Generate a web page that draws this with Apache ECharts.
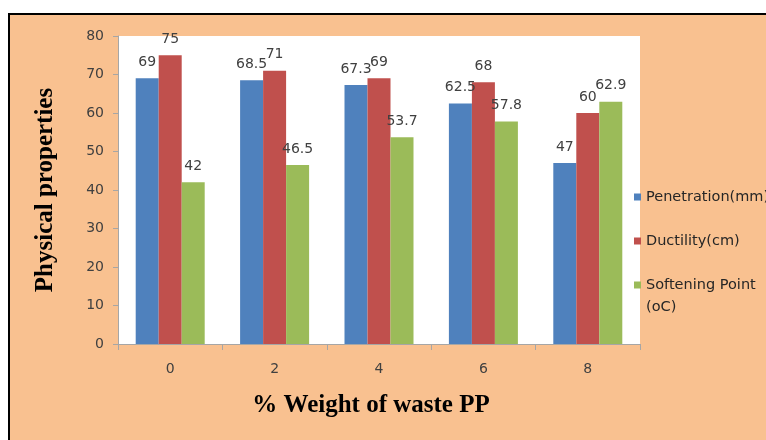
<!DOCTYPE html>
<html>
<head>
<meta charset="utf-8">
<script src="https://cdn.jsdelivr.net/npm/echarts@6/dist/echarts.min.js"></script>
<style>
  html, body { margin: 0; padding: 0; background: #ffffff; }
  #chart { width: 766px; height: 440px; }
</style>
</head>
<body>
<div id="chart"></div>
<script>
// % weight of waste PP added to the binder
var categories = ['0', '2', '4', '6', '8'];
// Measured physical properties for each blend
var penetration = [69, 68.5, 67.3, 62.5, 47];
var ductility = [75, 71, 69, 68, 60];
var softeningPoint = [42, 46.5, 53.7, 57.8, 62.9];
var yTicks = { min: 0, max: 80, interval: 10 };

var seriesNames = ['Penetration(mm)', 'Ductility(cm)', 'Softening Point (oC)'];

var labelFont = 'DejaVu Sans';
var labelColor = '#404040';

function barSeries(name, data, color) {
  return {
    name: name,
    type: 'bar',
    data: data,
    barWidth: 23,
    barGap: '0%',
    itemStyle: { color: color },
    label: {
      show: true,
      position: 'top',
      distance: 9,
      fontFamily: labelFont,
      fontSize: 14,
      color: labelColor
    }
  };
}

// One legend block per entry so the wrapped entry keeps its marker on the first line
function legendBlock(name, top, text) {
  return {
    orient: 'vertical',
    left: 634,
    top: top,
    padding: 0,
    itemWidth: 7,
    itemHeight: 7,
    icon: 'rect',
    textStyle: { fontFamily: labelFont, fontSize: 14.5, color: '#262626', lineHeight: 22 },
    formatter: function () { return text; },
    data: [name]
  };
}

var chart = echarts.init(document.getElementById('chart'), null, { renderer: 'canvas' });
chart.setOption({
  backgroundColor: '#ffffff',
  animation: false,
  graphic: [{
    type: 'rect',
    z: -10,
    shape: { x: 9, y: 14, width: 800, height: 480 },
    style: { fill: '#F9C190', stroke: '#000000', lineWidth: 2 }
  }],
  grid: {
    left: 118, top: 36, width: 522, height: 308,
    show: true, backgroundColor: '#ffffff', borderWidth: 0
  },
  legend: [
    legendBlock(seriesNames[0], 186, 'Penetration(mm)'),
    legendBlock(seriesNames[1], 230, 'Ductility(cm)'),
    legendBlock(seriesNames[2], 252, '\nSoftening Point\n(oC)')
  ],
  xAxis: {
    type: 'category',
    data: categories,
    name: '% Weight of waste PP',
    nameLocation: 'middle',
    nameGap: 49,
    nameTextStyle: {
      fontFamily: 'Liberation Serif', fontWeight: 'bold', fontSize: 25, color: '#000000',
      padding: [0, 16, 0, 0]
    },
    axisLine: { lineStyle: { color: '#A6A6A6' } },
    axisTick: { show: true, length: 6, lineStyle: { color: '#A6A6A6' } },
    axisLabel: { margin: 18, fontFamily: labelFont, fontSize: 14, color: labelColor }
  },
  yAxis: {
    type: 'value',
    min: yTicks.min,
    max: yTicks.max,
    interval: yTicks.interval,
    name: 'Physical properties',
    nameLocation: 'middle',
    nameGap: 60,
    nameTextStyle: { fontFamily: 'Liberation Serif', fontWeight: 'bold', fontSize: 25, color: '#000000' },
    axisLine: { show: true, lineStyle: { color: '#A6A6A6' } },
    axisTick: { show: true, length: 5, lineStyle: { color: '#A6A6A6' } },
    splitLine: { show: false },
    axisLabel: { margin: 14, fontFamily: labelFont, fontSize: 14, color: labelColor }
  },
  series: [
    barSeries(seriesNames[0], penetration, '#4F81BD'),
    barSeries(seriesNames[1], ductility, '#C0504D'),
    barSeries(seriesNames[2], softeningPoint, '#9BBB59')
  ]
});
</script>
</body>
</html>
